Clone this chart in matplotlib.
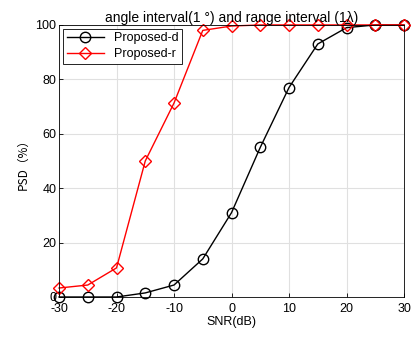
import matplotlib
matplotlib.use('Agg')
import matplotlib.pyplot as plt

plt.rcParams['font.family'] = ['Liberation Sans', 'DejaVu Sans']
plt.rcParams['font.size'] = 9
plt.rcParams['axes.unicode_minus'] = False

snr = [-30, -25, -20, -15, -10, -5, 0, 5, 10, 15, 20, 25, 30]
psd_d = [0, 0, 0, 1.5, 4.4, 14, 31, 55, 77, 93, 99, 100, 100]
psd_r = [3.3, 4.4, 10.7, 50, 71.3, 98, 99.6, 100, 100, 100, 100, 100, 100]

fig = plt.figure(figsize=(4.11, 3.37), dpi=100)
ax = fig.add_axes([0.1436, 0.1187, 0.8394, 0.8073])

ax.plot(snr, psd_d, 'k-o', mfc='none', ms=7.5, lw=1, label='Proposed-d', clip_on=False)
ax.plot(snr, psd_r, 'r-D', mfc='none', ms=6.5, lw=1, label='Proposed-r', clip_on=False)

ax.set_xlim(-30, 30)
ax.set_ylim(0, 100)
ax.set_xticks(range(-30, 31, 10))
ax.set_yticks(range(0, 101, 20))
ax.grid(True, color='#e0e0e0', lw=0.8)
ax.set_axisbelow(True)
ax.tick_params(direction='in', length=3, width=0.6, pad=2)
ax.tick_params(axis='x', pad=4)
for s in ax.spines.values():
    s.set_linewidth(0.6)

ax.set_xlabel('SNR(dB)', labelpad=1)
ax.set_ylabel('PSD（%）', family=['Noto Sans CJK SC', 'DejaVu Sans'], fontsize=8.5)
ax.set_title('angle interval(1 °) and range interval (1λ)', fontsize=10, pad=2)
leg = ax.legend(loc='upper left', fancybox=False, edgecolor='k', framealpha=1,
                handlelength=3, borderpad=0.3, labelspacing=0.3, borderaxespad=0.3)
leg.get_frame().set_linewidth(0.6)

fig.savefig('out.png', dpi=100)
